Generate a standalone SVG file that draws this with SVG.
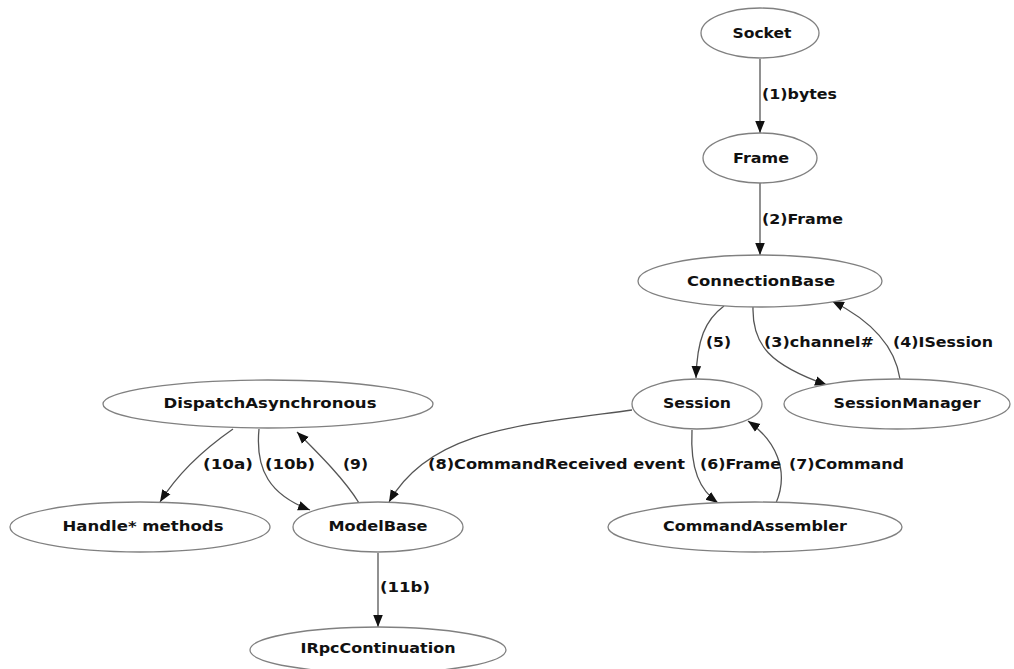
<svg xmlns="http://www.w3.org/2000/svg" width="1014" height="669" viewBox="0 0 1014 669">
<style>
.node ellipse{fill:#fff;stroke:#808080;stroke-width:1.3}
.node text,.lbl{font-family:"DejaVu Sans",sans-serif;font-weight:bold;font-size:14.5px;fill:#111}
.node text{text-anchor:middle;dominant-baseline:central}
.lbl{dominant-baseline:central}
.edges path{fill:none;stroke:#555;stroke-width:1.3}
</style>
<defs>
<marker id="ah" markerUnits="userSpaceOnUse" markerWidth="12" markerHeight="12" viewBox="0 0 10 10" refX="10" refY="5" orient="auto">
<path d="M0,1 L10,5 L0,9 Z" fill="#111"/>
</marker>
</defs>
<rect width="1014" height="669" fill="#fff"/>
<g class="edges">
<path d="M760,59 L760,133" marker-end="url(#ah)"/>
<path d="M760,183 L760,255" marker-end="url(#ah)"/>
<path d="M724,306 C705,320 697,340 696,378" marker-end="url(#ah)"/>
<path d="M753,307 C752,345 770,365 827,385" marker-end="url(#ah)"/>
<path d="M900,379 C895,345 870,320 832,301" marker-end="url(#ah)"/>
<path d="M233,429 C210,445 180,470 160,502" marker-end="url(#ah)"/>
<path d="M259,429 C255,470 270,495 310,510" marker-end="url(#ah)"/>
<path d="M359,503 C345,480 320,455 297,432" marker-end="url(#ah)"/>
<path d="M632,410 C520,425 430,430 389,502" marker-end="url(#ah)"/>
<path d="M692,430 C690,470 700,490 718,503" marker-end="url(#ah)"/>
<path d="M776,503 C790,470 775,440 748,421" marker-end="url(#ah)"/>
<path d="M378,553 L378,627" marker-end="url(#ah)"/>
<text class="lbl" x="762" y="94" textLength="75" lengthAdjust="spacingAndGlyphs">(1)bytes</text>
<text class="lbl" x="762" y="219" textLength="81" lengthAdjust="spacingAndGlyphs">(2)Frame</text>
<text class="lbl" x="706" y="342" textLength="25" lengthAdjust="spacingAndGlyphs">(5)</text>
<text class="lbl" x="764" y="342" textLength="110" lengthAdjust="spacingAndGlyphs">(3)channel#</text>
<text class="lbl" x="893" y="342" textLength="100" lengthAdjust="spacingAndGlyphs">(4)ISession</text>
<text class="lbl" x="203" y="464" textLength="50" lengthAdjust="spacingAndGlyphs">(10a)</text>
<text class="lbl" x="265" y="464" textLength="50" lengthAdjust="spacingAndGlyphs">(10b)</text>
<text class="lbl" x="343" y="464" textLength="25" lengthAdjust="spacingAndGlyphs">(9)</text>
<text class="lbl" x="428" y="464" textLength="257" lengthAdjust="spacingAndGlyphs">(8)CommandReceived event</text>
<text class="lbl" x="700" y="464" textLength="81" lengthAdjust="spacingAndGlyphs">(6)Frame</text>
<text class="lbl" x="789" y="464" textLength="115" lengthAdjust="spacingAndGlyphs">(7)Command</text>
<text class="lbl" x="380" y="587" textLength="50" lengthAdjust="spacingAndGlyphs">(11b)</text>
</g>
<g id="socket" class="node"><ellipse cx="760" cy="33" rx="59" ry="25"/><text x="762" y="33" textLength="59" lengthAdjust="spacingAndGlyphs">Socket</text></g>
<g id="frame" class="node"><ellipse cx="760" cy="158" rx="57" ry="25"/><text x="761" y="158" textLength="56" lengthAdjust="spacingAndGlyphs">Frame</text></g>
<g id="connectionbase" class="node"><ellipse cx="760" cy="281" rx="122" ry="26"/><text x="761" y="281" textLength="148" lengthAdjust="spacingAndGlyphs">ConnectionBase</text></g>
<g id="session" class="node"><ellipse cx="697" cy="404" rx="65" ry="25"/><text x="697" y="403" textLength="68" lengthAdjust="spacingAndGlyphs">Session</text></g>
<g id="sessionmanager" class="node"><ellipse cx="897" cy="404" rx="113" ry="25"/><text x="907" y="403" textLength="147" lengthAdjust="spacingAndGlyphs">SessionManager</text></g>
<g id="dispatchasynchronous" class="node"><ellipse cx="268" cy="404" rx="165" ry="24"/><text x="270" y="403" textLength="213" lengthAdjust="spacingAndGlyphs">DispatchAsynchronous</text></g>
<g id="handlemethods" class="node"><ellipse cx="140" cy="527" rx="130" ry="25"/><text x="143" y="526" textLength="161" lengthAdjust="spacingAndGlyphs">Handle* methods</text></g>
<g id="modelbase" class="node"><ellipse cx="378" cy="527" rx="85" ry="25"/><text x="378" y="526" textLength="99" lengthAdjust="spacingAndGlyphs">ModelBase</text></g>
<g id="commandassembler" class="node"><ellipse cx="755" cy="527" rx="147" ry="25"/><text x="755" y="526" textLength="184" lengthAdjust="spacingAndGlyphs">CommandAssembler</text></g>
<g id="irpccontinuation" class="node"><ellipse cx="378" cy="650" rx="128" ry="23"/><text x="378" y="648" textLength="155" lengthAdjust="spacingAndGlyphs">IRpcContinuation</text></g>
</svg>
